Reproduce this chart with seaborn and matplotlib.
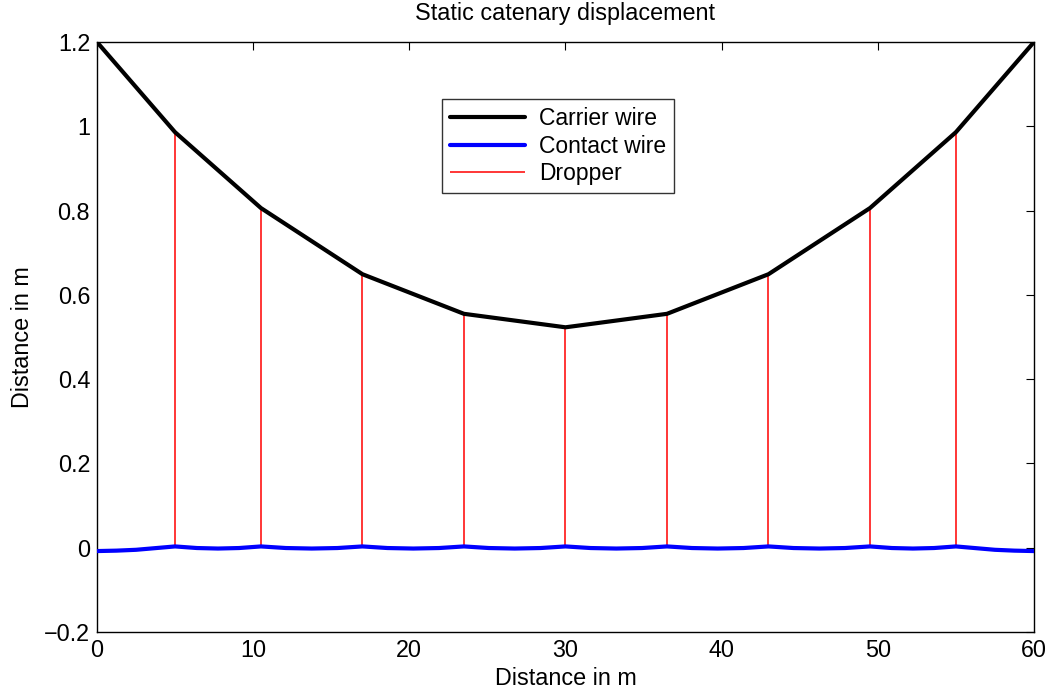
import numpy as np
import pandas as pd
import matplotlib
matplotlib.use("Agg")
import matplotlib.pyplot as plt
import seaborn as sns

# Dropper positions along the span (m)
dropper_x = [5.0, 10.5, 17.0, 23.5, 30.0, 36.5, 43.0, 49.5, 55.0]

# Carrier wire height at the masts and at each dropper (m)
carrier_x = [0.0] + dropper_x + [60.0]
carrier_y = [1.2, 0.986, 0.806, 0.649, 0.555, 0.523, 0.555, 0.649, 0.806, 0.986, 1.2]

# Contact wire height (m): slight sag between droppers
contact_x = [0.0, 1.25, 2.5, 3.75, 5.0,
             6.4, 7.75, 9.1, 10.5,
             12.1, 13.75, 15.4, 17.0,
             18.6, 20.25, 21.9, 23.5,
             25.1, 26.75, 28.4, 30.0,
             31.6, 33.25, 34.9, 36.5,
             38.1, 39.75, 41.4, 43.0,
             44.6, 46.25, 47.9, 49.5,
             50.9, 52.25, 53.6, 55.0,
             56.25, 57.5, 58.75, 60.0]
contact_y = [-0.008, -0.007, -0.005, -0.001, 0.003,
             -0.0008, -0.002, -0.0008, 0.003,
             -0.0008, -0.002, -0.0008, 0.003,
             -0.0008, -0.002, -0.0008, 0.003,
             -0.0008, -0.002, -0.0008, 0.003,
             -0.0008, -0.002, -0.0008, 0.003,
             -0.0008, -0.002, -0.0008, 0.003,
             -0.0008, -0.002, -0.0008, 0.003,
             -0.0008, -0.002, -0.0008, 0.003,
             -0.001, -0.005, -0.007, -0.008]

# Heights of the dropper ends
dropper_top = carrier_y[1:-1]
dropper_bottom = [0.003] * len(dropper_x)

FS = 16.8

sns.set_style("white")
plt.rcParams["font.family"] = ["Liberation Sans", "DejaVu Sans"]
plt.rcParams["font.size"] = FS
plt.rcParams["text.color"] = "black"
plt.rcParams["axes.labelcolor"] = "black"

fig = plt.figure(figsize=(10.54, 6.97), dpi=100)
ax = fig.add_axes([0.092, 0.0933, 0.889, 0.8464])

carrier = pd.DataFrame({"x": carrier_x, "y": carrier_y})
contact = pd.DataFrame({"x": contact_x, "y": contact_y})

sns.lineplot(data=carrier, x="x", y="y", ax=ax, color="black", linewidth=3,
             label="Carrier wire", sort=False, zorder=3)
sns.lineplot(data=contact, x="x", y="y", ax=ax, color=(0, 0, 1), linewidth=3,
             label="Contact wire", sort=False, zorder=3)
ax.vlines(dropper_x, dropper_bottom, dropper_top, colors=(1, 0, 0), linewidth=1.1,
          label="Dropper", zorder=2)

ax.set_xlim(0, 60)
ax.set_ylim(-0.2, 1.2)
ax.set_xticks([0, 10, 20, 30, 40, 50, 60])
ax.set_yticks([-0.2, 0, 0.2, 0.4, 0.6, 0.8, 1.0, 1.2])
ax.set_yticklabels(["\u22120.2", "0", "0.2", "0.4", "0.6", "0.8", "1", "1.2"])
ax.tick_params(direction="in", length=6, width=0.8, top=True, right=True,
               labelsize=FS, colors="black", pad=5)
for s in ax.spines.values():
    s.set_visible(True)
    s.set_color("black")
    s.set_linewidth(1.0)

ax.set_xlabel("Distance in m", fontsize=FS, labelpad=4, color="black")
ax.set_ylabel("Distance in m", fontsize=FS, labelpad=7, color="black")
ax.set_title("Static catenary displacement", fontsize=FS, pad=16, color="black")

leg = ax.legend(loc="upper center", bbox_to_anchor=(0.492, 0.903), frameon=True,
                fancybox=False, edgecolor="black", fontsize=16.5, handlelength=3.3,
                borderpad=0.35, labelspacing=0.2, handletextpad=0.6,
                borderaxespad=0.0, labelcolor="black")
leg.get_frame().set_linewidth(1.0)

fig.savefig("out.png", dpi=100, facecolor="white")
